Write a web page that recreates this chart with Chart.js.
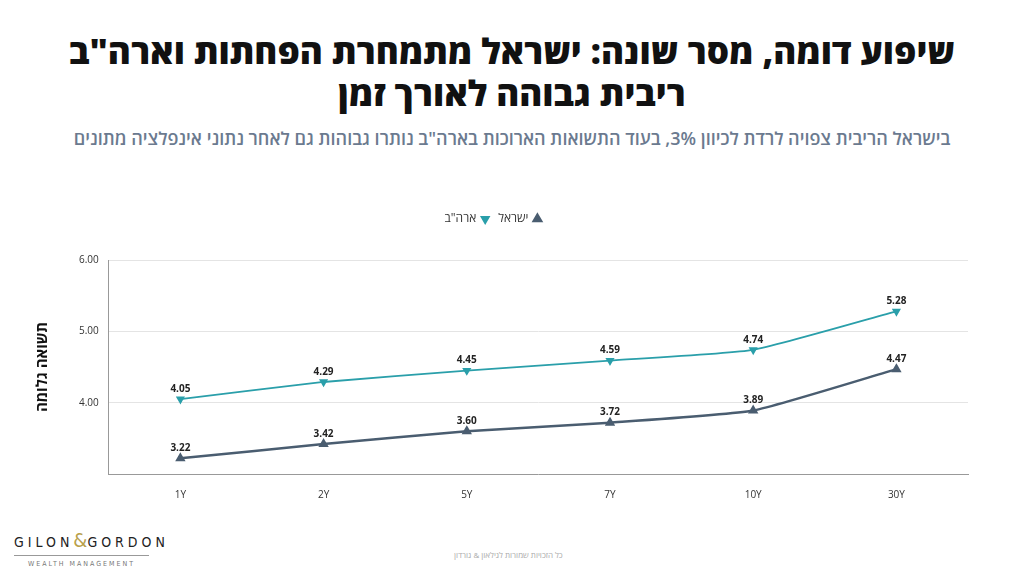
<!DOCTYPE html>
<html><head><meta charset="utf-8">
<script src="https://cdn.jsdelivr.net/npm/chart.js@4"></script>
<style>
body{margin:0;width:1024px;height:576px;background:#fff;font-family:"Open Sans","Noto Sans",sans-serif;position:relative;overflow:hidden}
#t{position:absolute;top:30px;left:0;width:1024px;text-align:center;direction:rtl;font-size:35px;font-weight:800;line-height:42px;color:#111}
#s{position:absolute;top:126px;left:0;width:1024px;text-align:center;direction:rtl;font-size:18px;font-weight:600;color:#6b7a8f}
#wrap{position:absolute;left:0;top:195px;width:1024px;height:313px}
#logo{position:absolute;left:14px;top:528px;width:135px;text-align:center;font-family:"DejaVu Sans Condensed",sans-serif}
#logo .a{font-size:14px;letter-spacing:4px;color:#222;border-bottom:1px solid #999;padding-bottom:3px;white-space:nowrap}
#logo .a b{color:#b8a04a;font-weight:400;font-size:20px;letter-spacing:0}
#logo .b{font-size:7px;letter-spacing:2px;color:#777;margin-top:4px}
#f{position:absolute;top:549px;left:454px;font-size:8px;color:#aaa;direction:rtl}
</style></head><body>
<div id="t">שיפוע דומה, מסר שונה: ישראל מתמחרת הפחתות וארה"ב<br>ריבית גבוהה לאורך זמן</div>
<div id="s">בישראל הריבית צפויה לרדת לכיוון 3%, בעוד התשואות הארוכות בארה"ב נותרו גבוהות גם לאחר נתוני אינפלציה מתונים</div>
<div id="wrap"><canvas id="c"></canvas></div>
<div id="logo"><div class="a">GILON<b>&amp;</b>GORDON</div><div class="b">WEALTH MANAGEMENT</div></div>
<div id="f">כל הזכויות שמורות לגילאון &amp; גורדון</div>
<script>
// data
var terms = ['1Y', '2Y', '5Y', '7Y', '10Y', '30Y'];
var usa = [4.05, 4.29, 4.45, 4.59, 4.74, 5.28];
var israel = [3.22, 3.42, 3.60, 3.72, 3.89, 4.47];
var yTicks = [4, 5, 6];

//value labels above each point
var labelsPlugin = {
  id: 'vals',
  afterDatasetsDraw: function(chart) {
    var c = chart.ctx;
    c.save();
    c.font = 'bold 10px "Open Sans"';
    c.fillStyle = '#222';
    c.textAlign = 'center';
    chart.data.datasets.forEach(function(ds, i) {
      chart.getDatasetMeta(i).data.forEach(function(p, j) {
        c.fillText(ds.data[j].toFixed(2), p.x, p.y - 10);
      });
    });
    c.restore();
  }
};
//more room under the legend
var legendGap = {
  id: 'legendGap',
  beforeInit: function(chart) {
    var fit = chart.legend.fit;
    chart.legend.fit = function() { fit.bind(chart.legend)(); this.height += 25; };
  }
};

new Chart(document.getElementById('c'), {
  type: 'line',
  data: {
    labels: terms,
    datasets: [{
      label: 'ישראל', data: israel, borderColor: '#4a5d70', backgroundColor: '#4a5d70',
      pointStyle: 'triangle', pointRadius: 3.5, borderWidth: 2.5, tension: 0.15
    }, {
      label: 'ארה"ב', data: usa, borderColor: '#2a9faa', backgroundColor: '#2a9faa',
      pointStyle: 'triangle', pointRotation: 180, pointRadius: 3.5, borderWidth: 1.8, tension: 0.15
    }]
  },
  options: {
    responsive: true, maintainAspectRatio: false, animation: false,
    layout: { padding: { left: 17, right: 56, top: 8, bottom: 0 } },
    plugins: {
      legend: { rtl: true, labels: { usePointStyle: true, boxWidth: 6, boxHeight: 6, font: { family: 'Open Sans', size: 12 }, color: '#333' } }
    },
    scales: {
      x: { offset: true, grid: { display: false }, border: { color: '#999' },
        ticks: { padding: 7, font: { family: 'Open Sans', size: 10 }, color: '#333' } },
      y: { min: 3, max: 6, afterBuildTicks: function(a) { a.ticks = yTicks.map(function(v) { return { value: v }; }); },
        border: { color: '#999' }, grid: { color: '#e4e4e4', drawTicks: false },
        title: { display: true, text: 'תשואה גלומה', font: { family: 'Open Sans', size: 15, weight: 'bold' }, color: '#111', padding: 17 },
        ticks: { padding: 10, font: { family: 'Open Sans', size: 10 }, color: '#333', callback: function(v) { return v.toFixed(2); } } }
    }
  },
  plugins: [labelsPlugin, legendGap]
});
</script>
</body></html>
